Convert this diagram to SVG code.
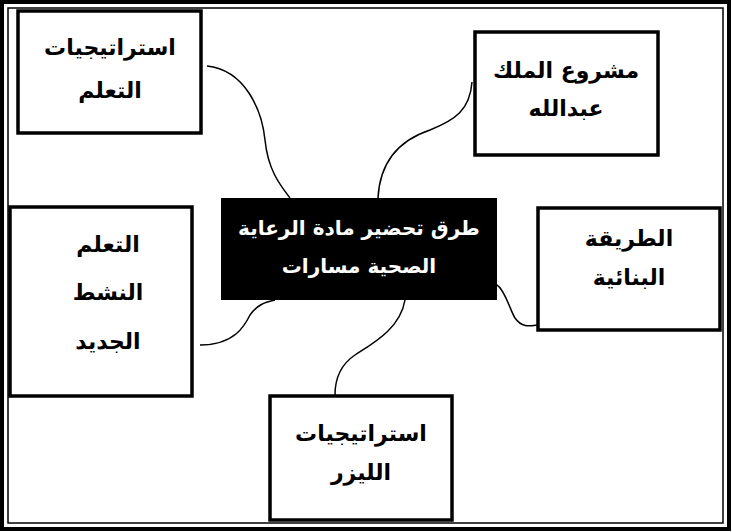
<svg xmlns="http://www.w3.org/2000/svg" width="732" height="532" viewBox="0 0 732 532">
<style>
.box{fill:#fff;stroke:#000;stroke-width:3.5}
.t{font-family:"DejaVu Sans","Liberation Serif",serif;font-weight:bold;font-size:22px;text-anchor:middle;fill:#000}
.w{fill:#fff;font-size:20px}
#connectors path{fill:none;stroke:#000;stroke-width:1.5}
</style>
<rect x="0" y="0" width="732" height="532" fill="#fff"/>
<rect x="2" y="2" width="727" height="527" fill="none" stroke="#000" stroke-width="4"/>
<rect x="8" y="8" width="715" height="515" fill="none" stroke="#000" stroke-width="1.5"/>
<g id="connectors">
<path d="M207,66 C245,70 262,110 265,140 C268,170 280,185 290,198"/>
<path d="M472,82 C470,110 455,120 430,130 C400,140 380,160 378,198"/>
<path d="M497,285 C505,290 510,310 515,318 C522,328 530,326 537,325"/>
<path d="M200,345 C235,345 245,325 250,315 C257,305 265,302 275,300"/>
<path d="M405,300 C400,330 370,345 355,355 C340,365 335,380 335,395"/>
</g>
<g id="n1"><rect class="box" x="18" y="11" width="183" height="122"/>
<text class="t" x="110" y="55">استراتيجيات</text><text class="t" x="110" y="98">التعلم</text></g>
<g id="n2"><rect class="box" x="475" y="32" width="183" height="123"/>
<text class="t" x="566" y="78">مشروع الملك</text><text class="t" x="566" y="116">عبدالله</text></g>
<g id="center"><rect x="221" y="198" width="276" height="102" fill="#000"/>
<text class="t w" x="359" y="235">طرق تحضير مادة الرعاية</text><text class="t w" x="359" y="273">الصحية مسارات</text></g>
<g id="n3"><rect class="box" x="538" y="208" width="182" height="122"/>
<text class="t" x="629" y="246">الطريقة</text><text class="t" x="629" y="285">البنائية</text></g>
<g id="n4"><rect class="box" x="10" y="207" width="182" height="189"/>
<text class="t" x="108" y="252">التعلم</text><text class="t" x="108" y="300">النشط</text><text class="t" x="108" y="349">الجديد</text></g>
<g id="n5"><rect class="box" x="270" y="396" width="182" height="124"/>
<text class="t" x="361" y="441">استراتيجيات</text><text class="t" x="361" y="480">الليزر</text></g>
</svg>
